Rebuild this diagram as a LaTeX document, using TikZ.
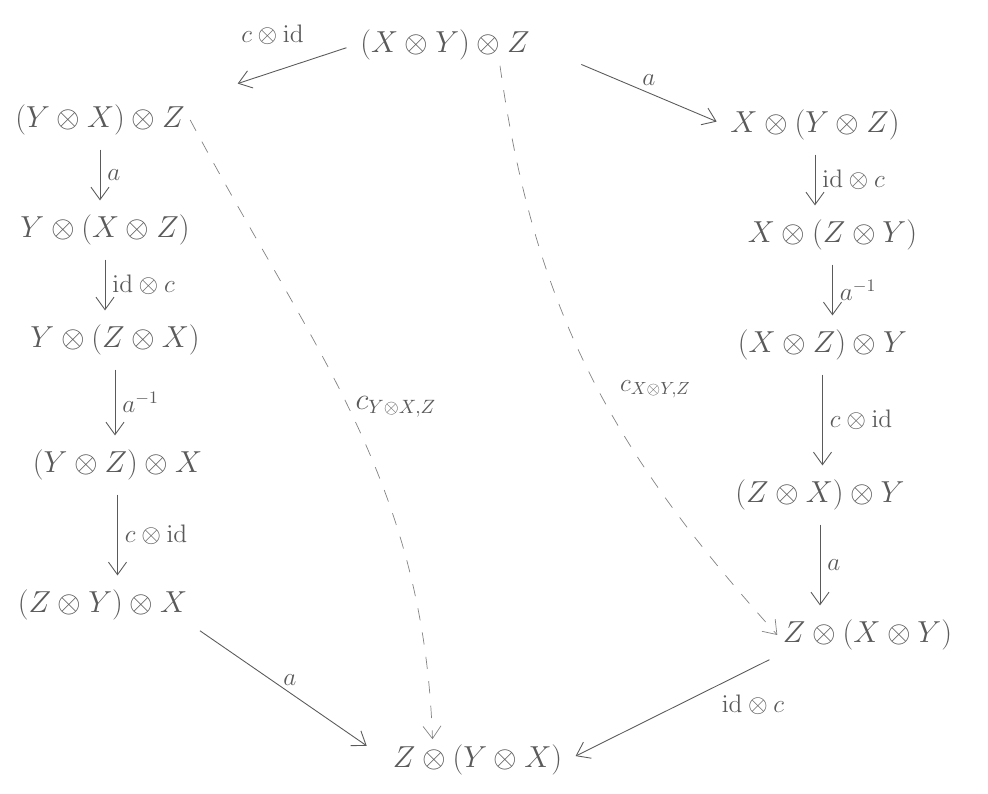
\documentclass[tikz,border=0pt]{standalone}
\usepackage{amsmath}
\usepackage{amssymb}
\usetikzlibrary{positioning,arrows.meta,calc}
\definecolor{pencil}{RGB}{90,90,90}

\begin{document}
\begin{tikzpicture}[
  font=\fontsize{18}{22}\selectfont,
  >={Straight Barb[length=2.5mm,width=3.6mm]},
  obj/.style={inner sep=3pt, text=pencil},
  lbl/.style={font=\fontsize{14}{16}\selectfont, text=pencil, inner sep=4pt},
  arrow/.style={->, draw=pencil, line width=0.5pt, shorten <=5pt, shorten >=5pt},
  dasharrow/.style={->, draw=pencil!75, line width=0.4pt, dash pattern=on 7pt off 7pt}
]
\useasboundingbox (0,0) rectangle (19.76,15.88);

% Top and bottom
\node[obj] (xy_z) at (8.9,14.98) {$(X\otimes Y)\otimes Z$};
\node[obj] (z_yx) at (9.55,0.68) {$Z\otimes(Y\otimes X)$};

% Left column
\node[obj] (yx_z) at (2.0,13.48) {$(Y\otimes X)\otimes Z$};
\node[obj] (y_xz) at (2.1,11.28) {$Y\otimes(X\otimes Z)$};
\node[obj] (y_zx) at (2.3,9.08)  {$Y\otimes(Z\otimes X)$};
\node[obj] (yz_x) at (2.35,6.58) {$(Y\otimes Z)\otimes X$};
\node[obj] (zy_x) at (2.05,3.78) {$(Z\otimes Y)\otimes X$};

% Right column
\node[obj] (x_yz) at (16.3,13.38) {$X\otimes(Y\otimes Z)$};
\node[obj] (x_zy) at (16.65,11.18) {$X\otimes(Z\otimes Y)$};
\node[obj] (xz_y) at (16.45,8.98) {$(X\otimes Z)\otimes Y$};
\node[obj] (zx_y) at (16.4,5.98)  {$(Z\otimes X)\otimes Y$};
\node[obj] (z_xy) at (17.35,3.18) {$Z\otimes(X\otimes Y)$};

% Left path
\draw[arrow, shorten >=1.0cm] (xy_z.west) -- node[lbl, above=4mm] {$c\otimes\mathrm{id}$} (yx_z.north east);
\draw[arrow] (yx_z.south) -- node[lbl, right] {$a$} (yx_z.south |- y_xz.north);
\draw[arrow] (y_xz.south) -- node[lbl, right] {$\mathrm{id}\otimes c$} (y_xz.south |- y_zx.north);
\draw[arrow] (y_zx.south) -- node[lbl, right] {$a^{-1}$} (y_zx.south |- yz_x.north);
\draw[arrow] (yz_x.south) -- node[lbl, right] {$c\otimes\mathrm{id}$} (yz_x.south |- zy_x.north);
\draw[arrow, shorten >=0.5cm] (zy_x.south east) -- node[lbl, above] {$a$} (z_yx.west);

% Right path
\draw[arrow, shorten <=1cm] (xy_z.east) -- node[lbl, above, pos=0.6] {$a$} (x_yz.west);
\draw[arrow] (x_yz.south) -- node[lbl, right] {$\mathrm{id}\otimes c$} (x_yz.south |- x_zy.north);
\draw[arrow] (x_zy.south) -- node[lbl, right] {$a^{-1}$} (x_zy.south |- xz_y.north);
\draw[arrow] (xz_y.south) -- node[lbl, right] {$c\otimes\mathrm{id}$} (xz_y.south |- zx_y.north);
\draw[arrow] (zx_y.south) -- node[lbl, right] {$a$} (zx_y.south |- z_xy.north);
\draw[arrow] (z_xy.south west) -- node[lbl, below right, pos=0.3] {$\mathrm{id}\otimes c$} (z_yx.east);

% Braidings
\draw[dasharrow] (yx_z.east) to[out=-62, in=92]
  node[lbl, right, pos=0.48, font=\fontsize{16}{18}\selectfont] {$c_{Y\otimes X,Z}$}
  ([xshift=-9mm]z_yx.north);
\draw[dasharrow] ([xshift=1.1cm]xy_z.south) to[out=-82, in=132]
  node[lbl, right=3mm, pos=0.53] {$c_{X\otimes Y,Z}$}
  (z_xy.west);

\end{tikzpicture}
\end{document}
